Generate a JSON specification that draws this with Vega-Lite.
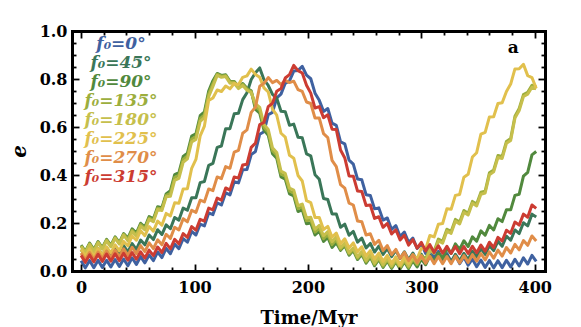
{
"$schema": "https://vega.github.io/schema/vega-lite/v6.json",
"width": 473, "height": 240,
"autosize": "none",
"padding": {"left": 72, "top": 31, "right": 36, "bottom": 56},
"config": {"view": {"stroke": null}, "font": "DejaVu Serif"},
"data": {"values": [
{"t":0,"a":0.043,"b":0.090,"c":0.108,"d":0.105,"e":0.102,"f":0.090,"g":0.075,"h":0.065},
{"t":3.75,"a":0.013,"b":0.061,"c":0.082,"d":0.079,"e":0.076,"f":0.061,"g":0.046,"h":0.036},
{"t":7.5,"a":0.044,"b":0.092,"c":0.116,"d":0.113,"e":0.110,"f":0.092,"g":0.077,"h":0.067},
{"t":11.25,"a":0.014,"b":0.063,"c":0.089,"d":0.086,"e":0.083,"f":0.063,"g":0.048,"h":0.038},
{"t":15,"a":0.045,"b":0.094,"c":0.123,"d":0.120,"e":0.117,"f":0.094,"g":0.079,"h":0.070},
{"t":18.75,"a":0.015,"b":0.066,"c":0.097,"d":0.094,"e":0.091,"f":0.067,"g":0.051,"h":0.040},
{"t":22.5,"a":0.045,"b":0.097,"c":0.132,"d":0.129,"e":0.126,"f":0.101,"g":0.083,"h":0.071},
{"t":26.25,"a":0.017,"b":0.069,"c":0.107,"d":0.104,"e":0.101,"f":0.075,"g":0.055,"h":0.041},
{"t":30,"a":0.048,"b":0.100,"c":0.142,"d":0.139,"e":0.136,"f":0.109,"g":0.087,"h":0.072},
{"t":33.75,"a":0.019,"b":0.073,"c":0.118,"d":0.115,"e":0.112,"f":0.084,"g":0.059,"h":0.043},
{"t":37.5,"a":0.050,"b":0.106,"c":0.156,"d":0.153,"e":0.150,"f":0.123,"g":0.092,"h":0.074},
{"t":41.25,"a":0.022,"b":0.079,"c":0.137,"d":0.131,"e":0.125,"f":0.105,"g":0.065,"h":0.045},
{"t":45,"a":0.055,"b":0.114,"c":0.176,"d":0.170,"e":0.164,"f":0.146,"g":0.099,"h":0.077},
{"t":48.75,"a":0.027,"b":0.090,"c":0.158,"d":0.152,"e":0.146,"f":0.128,"g":0.072,"h":0.049},
{"t":52.5,"a":0.060,"b":0.129,"c":0.199,"d":0.193,"e":0.187,"f":0.168,"g":0.106,"h":0.080},
{"t":56.25,"a":0.034,"b":0.109,"c":0.183,"d":0.177,"e":0.171,"f":0.147,"g":0.081,"h":0.054},
{"t":60,"a":0.067,"b":0.150,"c":0.227,"d":0.221,"e":0.215,"f":0.185,"g":0.117,"h":0.087},
{"t":63.75,"a":0.043,"b":0.131,"c":0.217,"d":0.211,"e":0.205,"f":0.166,"g":0.093,"h":0.064},
{"t":67.5,"a":0.079,"b":0.172,"c":0.268,"d":0.262,"e":0.256,"f":0.208,"g":0.130,"h":0.100},
{"t":71.25,"a":0.056,"b":0.152,"c":0.264,"d":0.258,"e":0.252,"f":0.191,"g":0.109,"h":0.077},
{"t":75,"a":0.094,"b":0.192,"c":0.321,"d":0.315,"e":0.309,"f":0.240,"g":0.153,"h":0.115},
{"t":78.75,"a":0.072,"b":0.176,"c":0.335,"d":0.323,"e":0.311,"f":0.229,"g":0.136,"h":0.092},
{"t":82.5,"a":0.112,"b":0.223,"c":0.402,"d":0.390,"e":0.378,"f":0.284,"g":0.182,"h":0.132},
{"t":86.25,"a":0.093,"b":0.212,"c":0.410,"d":0.398,"e":0.386,"f":0.282,"g":0.171,"h":0.113},
{"t":90,"a":0.135,"b":0.262,"c":0.477,"d":0.465,"e":0.453,"f":0.342,"g":0.218,"h":0.156},
{"t":93.75,"a":0.120,"b":0.253,"c":0.491,"d":0.479,"e":0.467,"f":0.343,"g":0.205,"h":0.140},
{"t":97.5,"a":0.165,"b":0.305,"c":0.562,"d":0.550,"e":0.538,"f":0.428,"g":0.253,"h":0.185},
{"t":101.25,"a":0.150,"b":0.305,"c":0.572,"d":0.560,"e":0.548,"f":0.465,"g":0.244,"h":0.170},
{"t":105,"a":0.195,"b":0.368,"c":0.647,"d":0.635,"e":0.623,"f":0.563,"g":0.295,"h":0.215},
{"t":108.75,"a":0.188,"b":0.373,"c":0.663,"d":0.651,"e":0.639,"f":0.604,"g":0.288,"h":0.208},
{"t":112.5,"a":0.242,"b":0.440,"c":0.750,"d":0.738,"e":0.726,"f":0.711,"g":0.342,"h":0.262},
{"t":116.25,"a":0.235,"b":0.448,"c":0.793,"d":0.781,"e":0.769,"f":0.721,"g":0.335,"h":0.255},
{"t":120,"a":0.284,"b":0.515,"c":0.823,"d":0.820,"e":0.815,"f":0.754,"g":0.392,"h":0.304},
{"t":123.75,"a":0.275,"b":0.521,"c":0.815,"d":0.812,"e":0.807,"f":0.748,"g":0.385,"h":0.295},
{"t":127.5,"a":0.326,"b":0.593,"c":0.818,"d":0.815,"e":0.810,"f":0.771,"g":0.435,"h":0.346},
{"t":131.25,"a":0.317,"b":0.593,"c":0.790,"d":0.787,"e":0.782,"f":0.759,"g":0.428,"h":0.337},
{"t":135,"a":0.372,"b":0.655,"c":0.790,"d":0.787,"e":0.782,"f":0.781,"g":0.495,"h":0.392},
{"t":138.75,"a":0.367,"b":0.657,"c":0.768,"d":0.765,"e":0.760,"f":0.776,"g":0.503,"h":0.387},
{"t":142.5,"a":0.422,"b":0.714,"c":0.781,"d":0.778,"e":0.773,"f":0.807,"g":0.574,"h":0.442},
{"t":146.25,"a":0.423,"b":0.743,"c":0.761,"d":0.758,"e":0.753,"f":0.813,"g":0.588,"h":0.445},
{"t":150,"a":0.485,"b":0.798,"c":0.751,"d":0.748,"e":0.743,"f":0.841,"g":0.661,"h":0.515},
{"t":153.75,"a":0.498,"b":0.826,"c":0.673,"d":0.685,"e":0.697,"f":0.819,"g":0.683,"h":0.533},
{"t":157.5,"a":0.570,"b":0.846,"c":0.658,"d":0.670,"e":0.682,"f":0.807,"g":0.770,"h":0.610},
{"t":161.25,"a":0.580,"b":0.797,"c":0.587,"d":0.599,"e":0.611,"f":0.763,"g":0.782,"h":0.619},
{"t":165,"a":0.651,"b":0.773,"c":0.566,"d":0.578,"e":0.590,"f":0.746,"g":0.806,"h":0.685},
{"t":168.75,"a":0.661,"b":0.736,"c":0.489,"d":0.501,"e":0.513,"f":0.674,"g":0.785,"h":0.699},
{"t":172.5,"a":0.721,"b":0.720,"c":0.470,"d":0.482,"e":0.494,"f":0.649,"g":0.794,"h":0.749},
{"t":176.25,"a":0.737,"b":0.666,"c":0.392,"d":0.404,"e":0.416,"f":0.574,"g":0.777,"h":0.760},
{"t":180,"a":0.782,"b":0.664,"c":0.383,"d":0.395,"e":0.407,"f":0.558,"g":0.795,"h":0.804},
{"t":183.75,"a":0.792,"b":0.607,"c":0.321,"d":0.333,"e":0.345,"f":0.482,"g":0.785,"h":0.818},
{"t":187.5,"a":0.833,"b":0.612,"c":0.313,"d":0.325,"e":0.337,"f":0.470,"g":0.791,"h":0.857},
{"t":191.25,"a":0.835,"b":0.557,"c":0.248,"d":0.260,"e":0.272,"f":0.398,"g":0.756,"h":0.835},
{"t":195,"a":0.853,"b":0.555,"c":0.255,"d":0.267,"e":0.279,"f":0.375,"g":0.748,"h":0.825},
{"t":198.75,"a":0.816,"b":0.488,"c":0.197,"d":0.209,"e":0.221,"f":0.293,"g":0.704,"h":0.774},
{"t":202.5,"a":0.801,"b":0.480,"c":0.200,"d":0.212,"e":0.224,"f":0.285,"g":0.698,"h":0.741},
{"t":206.25,"a":0.741,"b":0.401,"c":0.150,"d":0.162,"e":0.174,"f":0.223,"g":0.637,"h":0.679},
{"t":210,"a":0.711,"b":0.382,"c":0.166,"d":0.178,"e":0.190,"f":0.223,"g":0.637,"h":0.685},
{"t":213.75,"a":0.665,"b":0.302,"c":0.123,"d":0.135,"e":0.147,"f":0.173,"g":0.572,"h":0.639},
{"t":217.5,"a":0.677,"b":0.298,"c":0.140,"d":0.152,"e":0.164,"f":0.186,"g":0.556,"h":0.651},
{"t":221.25,"a":0.616,"b":0.238,"c":0.098,"d":0.110,"e":0.122,"f":0.141,"g":0.461,"h":0.591},
{"t":225,"a":0.607,"b":0.238,"c":0.118,"d":0.130,"e":0.142,"f":0.158,"g":0.435,"h":0.590},
{"t":228.75,"a":0.538,"b":0.182,"c":0.086,"d":0.091,"e":0.097,"f":0.114,"g":0.360,"h":0.504},
{"t":232.5,"a":0.530,"b":0.195,"c":0.106,"d":0.111,"e":0.117,"f":0.134,"g":0.345,"h":0.471},
{"t":236.25,"a":0.462,"b":0.149,"c":0.066,"d":0.071,"e":0.077,"f":0.096,"g":0.283,"h":0.396},
{"t":240,"a":0.445,"b":0.165,"c":0.085,"d":0.090,"e":0.096,"f":0.117,"g":0.275,"h":0.395},
{"t":243.75,"a":0.383,"b":0.120,"c":0.048,"d":0.053,"e":0.059,"f":0.080,"g":0.208,"h":0.333},
{"t":247.5,"a":0.380,"b":0.137,"c":0.070,"d":0.075,"e":0.081,"f":0.101,"g":0.205,"h":0.331},
{"t":251.25,"a":0.318,"b":0.096,"c":0.033,"d":0.038,"e":0.044,"f":0.063,"g":0.150,"h":0.273},
{"t":255,"a":0.315,"b":0.115,"c":0.058,"d":0.063,"e":0.069,"f":0.085,"g":0.155,"h":0.275},
{"t":258.75,"a":0.259,"b":0.079,"c":0.022,"d":0.027,"e":0.033,"f":0.050,"g":0.111,"h":0.219},
{"t":262.5,"a":0.263,"b":0.104,"c":0.048,"d":0.053,"e":0.059,"f":0.075,"g":0.128,"h":0.226},
{"t":266.25,"a":0.212,"b":0.069,"c":0.015,"d":0.020,"e":0.026,"f":0.040,"g":0.085,"h":0.182},
{"t":270,"a":0.221,"b":0.094,"c":0.042,"d":0.047,"e":0.053,"f":0.065,"g":0.106,"h":0.198},
{"t":273.75,"a":0.173,"b":0.060,"c":0.011,"d":0.016,"e":0.022,"f":0.032,"g":0.068,"h":0.154},
{"t":277.5,"a":0.189,"b":0.086,"c":0.039,"d":0.044,"e":0.050,"f":0.059,"g":0.090,"h":0.172},
{"t":281.25,"a":0.144,"b":0.052,"c":0.008,"d":0.013,"e":0.019,"f":0.026,"g":0.053,"h":0.129},
{"t":285,"a":0.162,"b":0.080,"c":0.039,"d":0.044,"e":0.050,"f":0.058,"g":0.078,"h":0.149},
{"t":288.75,"a":0.119,"b":0.047,"c":0.010,"d":0.015,"e":0.021,"f":0.032,"g":0.043,"h":0.108},
{"t":292.5,"a":0.137,"b":0.075,"c":0.043,"d":0.050,"e":0.056,"f":0.067,"g":0.068,"h":0.131},
{"t":296.25,"a":0.094,"b":0.042,"c":0.017,"d":0.027,"e":0.033,"f":0.051,"g":0.035,"h":0.095},
{"t":300,"a":0.113,"b":0.070,"c":0.050,"d":0.065,"e":0.057,"f":0.095,"g":0.063,"h":0.119},
{"t":303.75,"a":0.073,"b":0.039,"c":0.026,"d":0.050,"e":0.042,"f":0.091,"g":0.032,"h":0.084},
{"t":307.5,"a":0.094,"b":0.068,"c":0.063,"d":0.095,"e":0.087,"f":0.148,"g":0.061,"h":0.110},
{"t":311.25,"a":0.058,"b":0.037,"c":0.039,"d":0.082,"e":0.074,"f":0.142,"g":0.030,"h":0.077},
{"t":315,"a":0.082,"b":0.066,"c":0.075,"d":0.133,"e":0.125,"f":0.195,"g":0.060,"h":0.105},
{"t":318.75,"a":0.047,"b":0.035,"c":0.054,"d":0.124,"e":0.116,"f":0.198,"g":0.030,"h":0.074},
{"t":322.5,"a":0.073,"b":0.066,"c":0.094,"d":0.174,"e":0.166,"f":0.259,"g":0.060,"h":0.103},
{"t":326.25,"a":0.039,"b":0.038,"c":0.073,"d":0.165,"e":0.157,"f":0.257,"g":0.030,"h":0.073},
{"t":330,"a":0.065,"b":0.070,"c":0.113,"d":0.215,"e":0.207,"f":0.315,"g":0.062,"h":0.102},
{"t":333.75,"a":0.031,"b":0.042,"c":0.090,"d":0.204,"e":0.196,"f":0.319,"g":0.033,"h":0.072},
{"t":337.5,"a":0.058,"b":0.074,"c":0.126,"d":0.252,"e":0.244,"f":0.391,"g":0.064,"h":0.102},
{"t":341.25,"a":0.024,"b":0.047,"c":0.102,"d":0.241,"e":0.233,"f":0.403,"g":0.036,"h":0.073},
{"t":345,"a":0.050,"b":0.083,"c":0.142,"d":0.290,"e":0.282,"f":0.475,"g":0.068,"h":0.103},
{"t":348.75,"a":0.018,"b":0.058,"c":0.124,"d":0.279,"e":0.271,"f":0.493,"g":0.041,"h":0.076},
{"t":352.5,"a":0.046,"b":0.094,"c":0.167,"d":0.328,"e":0.320,"f":0.570,"g":0.073,"h":0.108},
{"t":356.25,"a":0.015,"b":0.069,"c":0.149,"d":0.333,"e":0.325,"f":0.578,"g":0.046,"h":0.083},
{"t":360,"a":0.044,"b":0.105,"c":0.190,"d":0.409,"e":0.401,"f":0.642,"g":0.080,"h":0.120},
{"t":363.75,"a":0.013,"b":0.085,"c":0.171,"d":0.421,"e":0.413,"f":0.643,"g":0.053,"h":0.098},
{"t":367.5,"a":0.043,"b":0.124,"c":0.218,"d":0.481,"e":0.473,"f":0.698,"g":0.087,"h":0.140},
{"t":371.25,"a":0.014,"b":0.103,"c":0.206,"d":0.477,"e":0.469,"f":0.701,"g":0.062,"h":0.125},
{"t":375,"a":0.045,"b":0.145,"c":0.255,"d":0.540,"e":0.532,"f":0.748,"g":0.098,"h":0.170},
{"t":378.75,"a":0.017,"b":0.128,"c":0.255,"d":0.552,"e":0.544,"f":0.779,"g":0.075,"h":0.157},
{"t":382.5,"a":0.049,"b":0.171,"c":0.315,"d":0.645,"e":0.637,"f":0.842,"g":0.111,"h":0.204},
{"t":386.25,"a":0.021,"b":0.156,"c":0.320,"d":0.677,"e":0.669,"f":0.843,"g":0.088,"h":0.191},
{"t":390,"a":0.055,"b":0.201,"c":0.395,"d":0.735,"e":0.727,"f":0.861,"g":0.127,"h":0.237},
{"t":393.75,"a":0.029,"b":0.188,"c":0.411,"d":0.745,"e":0.737,"f":0.814,"g":0.107,"h":0.224},
{"t":397.5,"a":0.065,"b":0.237,"c":0.484,"d":0.774,"e":0.766,"f":0.806,"g":0.146,"h":0.275},
{"t":401.25,"a":0.040,"b":0.225,"c":0.498,"d":0.767,"e":0.759,"f":0.761,"g":0.125,"h":0.261}
]},
"layer": [
{
"transform": [{"fold": ["a","b","c","d","e","f","g","h"], "as": ["s","v"]}],
"mark": {"type": "line", "strokeWidth": 3, "clip": true, "strokeJoin": "round"},
"encoding": {
"x": {"field": "t", "type": "quantitative", "scale": {"domain": [-8, 409], "nice": false, "zero": false},
"axis": {"orient": "bottom", "values": [0,20,40,60,80,100,120,140,160,180,200,220,240,260,280,300,320,340,360,380,400],
"labelExpr": "datum.value % 100 === 0 ? datum.label : ''",
"tickSize": {"condition": {"test": "datum.value % 100 === 0", "value": -7}, "value": -4},
"tickWidth": 1.8, "tickColor": "black", "domainWidth": 3, "domainColor": "black", "domainCap": "square",
"labelFont": "DejaVu Serif", "labelFontWeight": "bold", "labelFontSize": 16, "labelColor": "black", "labelPadding": 15,
"labelFlush": false, "labelOverlap": false, "grid": false, "zindex": 1,
"title": "Time/Myr", "titleFont": "DejaVu Serif", "titleFontWeight": "bold", "titleFontSize": 18, "titleColor": "black", "titlePadding": 11}},
"y": {"field": "v", "type": "quantitative", "scale": {"domain": [0, 1], "nice": false},
"axis": {"orient": "left", "values": [0,0.05,0.1,0.15,0.2,0.25,0.3,0.35,0.4,0.45,0.5,0.55,0.6,0.65,0.7,0.75,0.8,0.85,0.9,0.95,1],
"labelExpr": "indexof([0,0.2,0.4,0.6,0.8,1], datum.value) >= 0 ? format(datum.value, '.1f') : ''",
"tickSize": {"condition": {"test": "indexof([0,0.2,0.4,0.6,0.8,1], datum.value) >= 0", "value": -7}, "value": -4},
"tickWidth": 1.8, "tickColor": "black", "domainWidth": 3, "domainColor": "black", "domainCap": "square",
"labelFont": "DejaVu Serif", "labelFontWeight": "bold", "labelFontSize": 16, "labelColor": "black", "labelPadding": 12,
"labelFlush": false, "labelOverlap": false, "grid": false, "zindex": 1,
"title": "e", "titleFont": "DejaVu Serif", "titleFontWeight": "bold", "titleFontStyle": "italic", "titleFontSize": 20, "titleColor": "black", "titlePadding": 10}},
"color": {"field": "s", "type": "nominal",
"scale": {"domain": ["a","b","c","d","e","f","g","h"], "range": ["#3f61a0","#3a7658","#51893d","#9cae3d","#c6bf4c","#e1c04d","#e08d48","#cc3c32"]},
"legend": {"orient": "none", "legendX": 32, "legendY": 4, "title": null, "direction": "vertical",
"symbolSize": 0, "symbolOpacity": 0, "symbolStrokeWidth": 0, "labelOffset": 0, "padding": 0, "rowPadding": 1,
"labelAlign": "center", "labelFont": "DejaVu Serif", "labelFontStyle": "italic", "labelFontWeight": "bold", "labelFontSize": 17,
"labelExpr": "['f₀=0°','f₀=45°','f₀=90°','f₀=135°','f₀=180°','f₀=225°','f₀=270°','f₀=315°'][indexof(['a','b','c','d','e','f','g','h'], datum.value)]",
"encode": {"labels": {"update": {"fill": {"scale": "color", "field": "value"}}}}}}
}
},
{
"data": {"values": [{"t": 0, "v": 0}]},
"mark": {"type": "point", "opacity": 0},
"encoding": {
"x": {"field": "t", "type": "quantitative",
"axis": {"orient": "top", "values": [0,20,40,60,80,100,120,140,160,180,200,220,240,260,280,300,320,340,360,380,400],
"labels": false, "title": null, "grid": false, "zindex": 1,
"tickSize": {"condition": {"test": "datum.value % 100 === 0", "value": -7}, "value": -4},
"tickWidth": 1.8, "tickColor": "black", "domainWidth": 3, "domainColor": "black", "domainCap": "square"}},
"y": {"field": "v", "type": "quantitative",
"axis": {"orient": "right", "values": [0,0.05,0.1,0.15,0.2,0.25,0.3,0.35,0.4,0.45,0.5,0.55,0.6,0.65,0.7,0.75,0.8,0.85,0.9,0.95,1],
"labels": false, "title": null, "grid": false, "zindex": 1,
"tickSize": {"condition": {"test": "indexof([0,0.2,0.4,0.6,0.8,1], datum.value) >= 0", "value": -7}, "value": -4},
"tickWidth": 1.8, "tickColor": "black", "domainWidth": 3, "domainColor": "black", "domainCap": "square"}}
}
},
{
"data": {"values": [{"lab": "a"}]},
"mark": {"type": "text", "font": "DejaVu Serif", "fontWeight": "bold", "fontSize": 17, "color": "black"},
"encoding": {
"x": {"datum": 381, "type": "quantitative", "axis": null},
"y": {"datum": 0.93, "type": "quantitative", "axis": null},
"text": {"field": "lab"}
}
}
],
"resolve": {"axis": {"x": "independent", "y": "independent"}}
}
